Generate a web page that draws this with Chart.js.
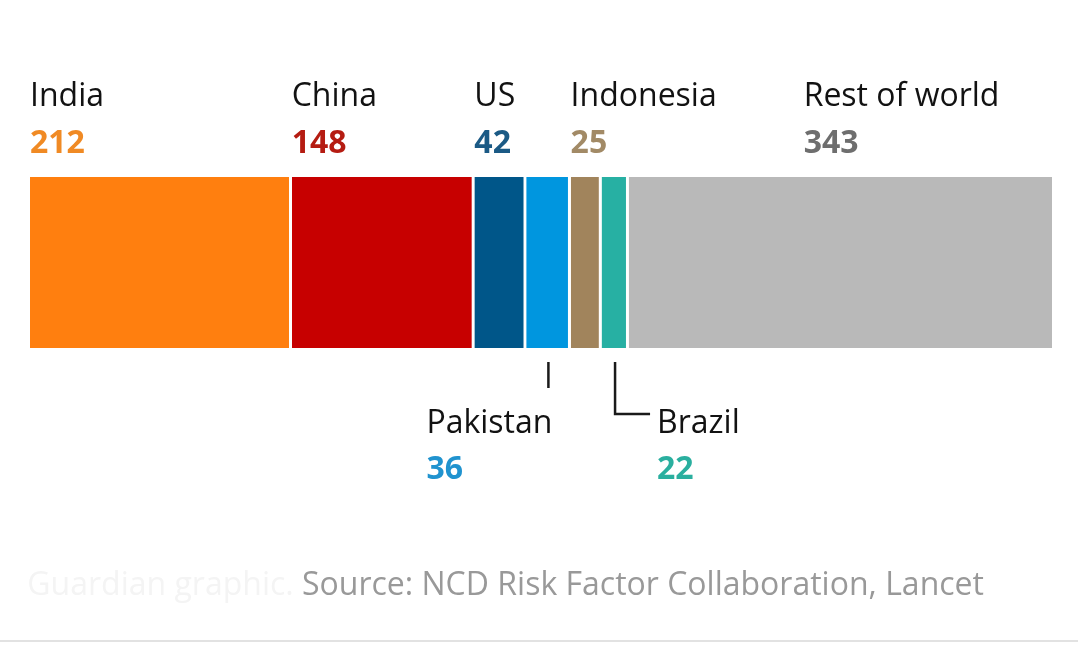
<!DOCTYPE html>
<html>
<head>
<meta charset="utf-8">
<script src="https://cdn.jsdelivr.net/npm/chart.js@4"></script>
<style>
    html, body { margin: 0; padding: 0; background: #ffffff; }
    #wrap { width: 1078px; height: 645px; position: relative; }
</style>
</head>
<body>
<div id="wrap"><canvas id="shareChart"></canvas></div>
<script>
const countries = ['India', 'China', 'US', 'Pakistan', 'Indonesia', 'Brazil', 'Rest of world'];
const values = [212, 148, 42, 36, 25, 22, 343];
const barColors = ['#ff7f0f', '#c70000', '#005689', '#0096df', '#a1845c', '#27b0a3', '#b9b9b9'];
const valueColors = ['#f08a24', '#b51c12', '#1b5a85', '#2093cf', '#a28a66', '#2aaf9f', '#6e6e6e'];
// labels hanging below the bar instead of above it
const belowLabels = ['Pakistan', 'Brazil'];
const sourceText = 'Source: NCD Risk Factor Collaboration, Lancet';
const creditText = 'Guardian graphic. ';

const totalValue = values.reduce((a, b) => a + b, 0);
const FONT = '"Open Sans", "Noto Sans", sans-serif';
const NAME_FONT = '400 32px ' + FONT;
const VALUE_FONT = '700 32px ' + FONT;

const datasets = countries.map((name, i) => ({
    label: name,
    data: [values[i]],
    backgroundColor: barColors[i],
    borderColor: '#ffffff',
    borderWidth: { left: 0, right: i === countries.length - 1 ? 0 : 3, top: 0, bottom: 0 },
    borderSkipped: false,
    barPercentage: 1,
    categoryPercentage: 1
}));

const labelPlugin = {
    id: 'segmentLabels',
    afterDraw(chart) {
        const ctx = chart.ctx;
        const xScale = chart.scales.x;
        const area = chart.chartArea;
        let running = 0;

        ctx.save();
        ctx.textBaseline = 'alphabetic';
        countries.forEach((name, i) => {
            const start = xScale.getPixelForValue(running);
            const end = xScale.getPixelForValue(running + values[i]);
            const mid = (start + end) / 2;
            running += values[i];

            if (belowLabels.includes(name)) {
                ctx.strokeStyle = '#1a1a1a';
                ctx.lineWidth = 2.5;
                ctx.beginPath();
                let textX;
                if (name === 'Pakistan') {
                    ctx.moveTo(mid, area.bottom + 14);
                    ctx.lineTo(mid, area.bottom + 40);
                    ctx.stroke();
                    ctx.font = NAME_FONT;
                    const w = ctx.measureText(name).width;
                    textX = mid + 4 - w;
                } else {
                    ctx.moveTo(mid, area.bottom + 14);
                    ctx.lineTo(mid, area.bottom + 66);
                    ctx.lineTo(mid + 35, area.bottom + 66);
                    ctx.stroke();
                    textX = mid + 42;
                }
                ctx.textAlign = 'left';
                ctx.fillStyle = '#121212';
                ctx.font = NAME_FONT;
                ctx.fillText(name, textX, area.bottom + 85);
                ctx.fillStyle = valueColors[i];
                ctx.font = VALUE_FONT;
                ctx.fillText(String(values[i]), textX, area.bottom + 131);
            } else {
                const textX = name === 'Rest of world' ? start + 175 : start;
                ctx.textAlign = 'left';
                ctx.fillStyle = '#121212';
                ctx.font = NAME_FONT;
                ctx.fillText(name, textX, area.top - 71);
                ctx.fillStyle = valueColors[i];
                ctx.font = VALUE_FONT;
                ctx.fillText(String(values[i]), textX, area.top - 24);
            }
        });

        // source line, credit almost washed out
        ctx.font = '400 32px ' + FONT;
        ctx.textAlign = 'left';
        ctx.fillStyle = '#999999';
        ctx.fillText(sourceText, 302, 595);
        ctx.textAlign = 'right';
        ctx.fillStyle = '#f4f4f4';
        ctx.fillText(creditText, 302, 595);

        ctx.strokeStyle = '#e2e2e2';
        ctx.lineWidth = 2;
        ctx.beginPath();
        ctx.moveTo(0, 641);
        ctx.lineTo(chart.width, 641);
        ctx.stroke();
        ctx.restore();
    }
};

function initShareChart() {
    const canvas = document.getElementById('shareChart');
    new Chart(canvas.getContext('2d'), {
        type: 'bar',
        data: { labels: [''], datasets: datasets },
        options: {
            indexAxis: 'y',
            responsive: true,
            maintainAspectRatio: false,
            animation: false,
            layout: { padding: { left: 30, right: 26, top: 177, bottom: 297 } },
            plugins: {
                legend: { display: false },
                tooltip: { enabled: false }
            },
            scales: {
                x: { stacked: true, min: 0, max: totalValue, display: false },
                y: { stacked: true, display: false }
            }
        },
        plugins: [labelPlugin]
    });
}

initShareChart();
</script>
</body>
</html>
